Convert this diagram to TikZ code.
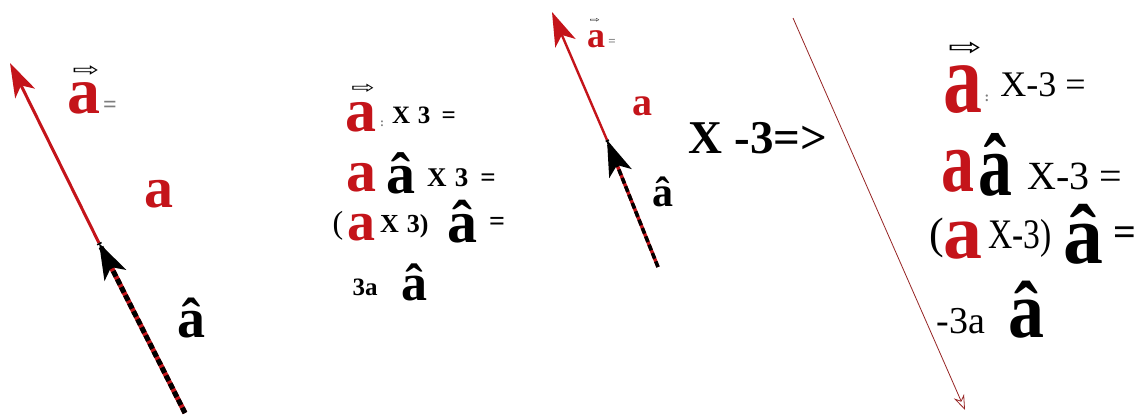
\documentclass[tikz,border=0pt]{standalone}
\usepackage{fontspec}
\setmainfont{Liberation Serif}
\newfontfamily\arrowfont{DejaVu Sans}
\usetikzlibrary{arrows.meta,positioning}
\definecolor{vcRed}{RGB}{196,20,26}
\definecolor{vcLine}{RGB}{150,36,36}
\definecolor{vcGrey}{RGB}{125,125,125}
\newcommand{\fsz}[1]{\fontsize{#1}{#1}\selectfont}
\newcommand{\squeeze}[2]{\scalebox{#1}[1]{#2}}
\newcommand{\flatarrow}{\scalebox{1}[0.6]{⇨}}

\begin{document}
\begin{tikzpicture}[x=1pt,y=-1pt,inner sep=0pt,
  redA/.style={text=vcRed,font=\fsz{#1}\bfseries},
  hatA/.style={text=black,font=\fsz{#1}\bfseries},
  txt/.style={text=black,font=\fsz{#1}},
  grey/.style={text=vcGrey,font=\fsz{#1}\bfseries},
  wharrow/.style={font=\fsz{#1}\arrowfont},
  redvec/.style={draw=vcRed,line width=3pt,-{Stealth[length=34pt,width=22pt,inset=9pt]}},
  unitvec/.style={draw=vcRed,line width=5pt,-{Stealth[black,length=36pt,width=24pt,inset=9pt]},
    postaction={draw=black,-,dash pattern=on 6pt off 3pt}},
  thinvec/.style={draw=vcLine,line width=0.8pt,-{Stealth[open,length=15pt,width=11pt]}}]
  \useasboundingbox (0,0) rectangle (1142,419);
  % first vector
  \coordinate (tipL) at (10,63);
  \coordinate (midL) at (99,243);
  \coordinate (endL) at (185,413);
  \draw[redvec] (midL) -- (tipL);
  \draw[unitvec] (endL) -- (midL);
  \node[redA=66] (vecL) at (84,98) {a};
  \node[wharrow=32] (vecLarr) at (86,71) {\flatarrow};
  \node[grey=24] (eqL) at (110,107) {=};
  \node[redA=58] (magL) at (159,194) {a};
  \node[hatA=56] (hatL) at (191,318) {â};
  % times 3
  \node[redA=62] (vecM) at (361,117) {a};
  \node[wharrow=28] (vecMarr) at (363,89) {\flatarrow};
  \node[grey=12] (colM) at (382,124) {:};
  \node[hatA=25,anchor=west] (tM) at (392,115) {X\hspace{0.3em}3\hspace{0.45em}=};
  \node[redA=60] (magM) at (361,178) {a};
  \node[hatA=58] (hatM) at (401,173) {â};
  \node[hatA=27,anchor=west] (tM2) at (427,178) {X\hspace{0.3em}3\hspace{0.45em}=};
  \node[txt=32] (lpM) at (338,226) {(};
  \node[redA=56] (magM2) at (361,228) {a};
  \node[hatA=26,anchor=west] (tM3) at (380,226) {X\hspace{0.3em}3)};
  \node[hatA=60] (hatM2) at (462,222) {â};
  \node[hatA=28] (eqM) at (497,224) {=};
  \node[hatA=25] (tM4) at (365,287) {3a};
  \node[hatA=52] (hatM3) at (414,282) {â};
  % second vector
  \coordinate (tipR) at (552,12);
  \coordinate (midR) at (607,140);
  \coordinate (endR) at (658,267);
  \draw[redvec,line width=2.4pt] (midR) -- (tipR);
  \draw[unitvec,line width=3.5pt] (endR) -- (midR);
  \node[redA=36] (vecR) at (596,39) {a};
  \node[wharrow=12] (vecRarr) at (595,20) {\flatarrow};
  \node[grey=13] (eqR) at (612,42) {=};
  \node[redA=40] (magR) at (642,106) {a};
  \node[hatA=42] (hatR) at (663,192) {â};
  \node[hatA=47] (impl) at (758,138) {X -3=>};
  % times -3
  \coordinate (topN) at (793,18);
  \coordinate (endN) at (965,410);
  \draw[thinvec] (topN) -- (endN);
  \node[redA=100] (vecN) at (963,90) {\squeeze{0.78}{a}};
  \node[wharrow=40] (vecNarr) at (965,49) {\flatarrow};
  \node[grey=14] (colN) at (987,98) {:};
  \node[txt=36] (tN) at (1043,85) {X-3 =};
  \node[redA=88] (magN) at (958,171) {\squeeze{0.75}{a}};
  \node[hatA=88] (hatN) at (995,165) {\squeeze{0.77}{â}};
  \node[txt=40] (tN2) at (1075,176) {X-3 =};
  \node[txt=44] (lpN) at (937,238) {(};
  \node[redA=78] (magN2) at (963,241) {a};
  \node[txt=42] (tN3) at (1020,238) {\squeeze{0.8}{X-3)}};
  \node[hatA=84] (hatN2) at (1083,234) {\squeeze{0.95}{â}};
  \node[hatA=40] (eqN) at (1125,236) {=};
  \node[txt=38] (tN4) at (961,321) {-3a};
  \node[hatA=80] (hatN3) at (1026,310) {\squeeze{0.9}{â}};
\end{tikzpicture}
\end{document}
